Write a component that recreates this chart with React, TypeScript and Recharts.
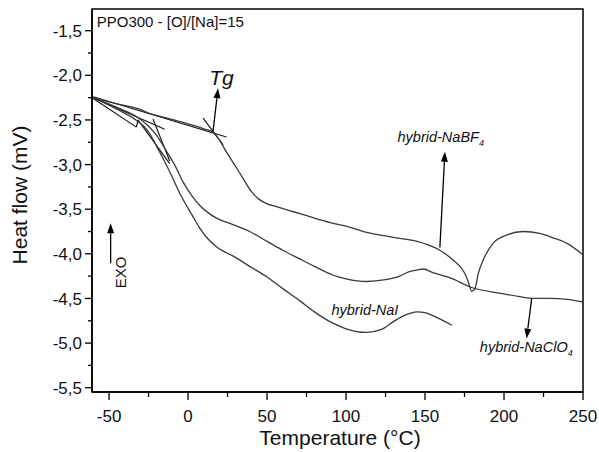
import React from "react";
import { LineChart, Line, XAxis, YAxis, ReferenceLine, ReferenceDot, ReferenceArea } from "recharts";

const FONT = '"Liberation Sans", Arial, sans-serif';

const X_MIN = -60.8;
const X_MAX = 250;
const Y_MIN = -5.548;
const Y_MAX = -1.257;

const xTicks = [-50, -25, 0, 25, 50, 75, 100, 125, 150, 175, 200, 225, 250];
const yTicks = [-5.5, -5.25, -5, -4.75, -4.5, -4.25, -4, -3.75, -3.5, -3.25, -3, -2.75, -2.5, -2.25, -2, -1.75, -1.5];

// hybrid-NaBF4
const bf4T = [-60, -45, -30, -24, -15, -5, 5, 10, 16, 20, 24, 29, 35, 40, 45, 50, 56, 63, 71, 80, 90, 100, 113, 125, 135, 145, 152, 159.4, 167.8, 173, 175.2, 177.3, 179.5, 181.6, 183.7, 186.8, 193.2, 201.6, 212, 222.7, 231, 239.6, 250];
const bf4V = [-2.25, -2.32, -2.385, -2.43, -2.47, -2.52, -2.57, -2.6, -2.64, -2.73, -2.85, -2.99, -3.16, -3.3, -3.39, -3.44, -3.47, -3.51, -3.55, -3.6, -3.65, -3.69, -3.76, -3.8, -3.83, -3.86, -3.9, -3.96, -4.07, -4.16, -4.22, -4.31, -4.42, -4.39, -4.22, -4.07, -3.88, -3.79, -3.75, -3.77, -3.82, -3.88, -4.01];

// hybrid-NaClO4
const clo4T = [-60, -45, -32, -25, -20, -14, -8, -3, 2, 7, 12, 18, 28, 39, 50, 60, 71, 80, 92, 100, 113, 125, 134, 140, 145, 149, 155, 166, 180, 197, 210, 218, 229, 240, 250];
const clo4V = [-2.25, -2.36, -2.47, -2.57, -2.67, -2.84, -3.02, -3.2, -3.34, -3.45, -3.53, -3.6, -3.67, -3.75, -3.86, -3.96, -4.06, -4.14, -4.24, -4.28, -4.31, -4.29, -4.25, -4.2, -4.18, -4.17, -4.21, -4.27, -4.38, -4.44, -4.48, -4.5, -4.5, -4.51, -4.54];

// hybrid-NaI
const naiT = [-60, -45, -33, -28, -24, -20, -15, -10, -5, 0, 3, 7, 11, 18, 30, 39, 50, 60, 71, 80, 92, 100, 113, 122, 130, 137, 145, 150, 156, 167];
const naiV = [-2.25, -2.38, -2.5, -2.57, -2.66, -2.79, -2.96, -3.14, -3.33, -3.49, -3.58, -3.7, -3.8, -3.92, -4.04, -4.14, -4.26, -4.39, -4.53, -4.65, -4.78, -4.84, -4.88, -4.85, -4.76, -4.69, -4.65, -4.66, -4.7, -4.8];

// tangent construction lines [t1, v1, t2, v2]
const tangentLines = [
  [-60, -2.24, 24.3, -2.69],
  [9.5, -2.48, 22.2, -2.78],
  [-60, -2.25, -14.8, -2.605],
  [-60, -2.26, -32.7, -2.58],
  [-32.7, -2.58, -31.7, -2.5],
  [-31.7, -2.5, -11.6, -2.99],
  [-22.2, -2.49, -11.6, -2.96],
];

// arrows [t1, v1, t2, v2] head at second point
const arrows = [
  [15.8, -2.63, 19, -2.145],
  [159.4, -3.93, 162.6, -2.856],
  [217.5, -4.5, 214.3, -4.95],
  [-49, -4.106, -49, -3.658],
];

const zip = (ts: number[], vs: number[]) => ts.map((t, i) => ({ t, v: vs[i] }));
const bf4Data = zip(bf4T, bf4V);
const clo4Data = zip(clo4T, clo4V);
const naiData = zip(naiT, naiV);

const X_TICK_SIZE = 8;
const X_TICK_MARGIN = 10;
const Y_TICK_SIZE = 7;
const Y_TICK_MARGIN = 3;

const XTick = (props: any) => {
  const { x, y, payload } = props;
  const v = payload.value;
  const major = Math.abs(v % 50) < 1e-6;
  const axisY = y - X_TICK_SIZE - X_TICK_MARGIN;
  return (
    <g>
      <line x1={x} x2={x} y1={axisY} y2={axisY + (major ? X_TICK_SIZE : 5)} stroke="#000" strokeWidth={1.3} />
      {major && (
        <text x={x} y={y} dy="0.71em" textAnchor="middle" fontFamily={FONT} fontSize={17} fill="#111">
          {String(v)}
        </text>
      )}
    </g>
  );
};

const YTick = (props: any) => {
  const { x, y, payload } = props;
  const v = payload.value;
  const major = Math.abs(Math.round(v * 2) - v * 2) < 1e-6;
  const axisX = x + Y_TICK_SIZE + Y_TICK_MARGIN;
  return (
    <g>
      <line x1={axisX - (major ? Y_TICK_SIZE : 4)} x2={axisX} y1={y} y2={y} stroke="#000" strokeWidth={1.3} />
      {major && (
        <text x={x} y={y} dy="0.36em" textAnchor="end" fontFamily={FONT} fontSize={17} fill="#111">
          {v.toFixed(1).replace(".", ",")}
        </text>
      )}
    </g>
  );
};

const arrowShape = (props: any) => {
  const { x1, y1, x2, y2 } = props;
  const dx = x2 - x1;
  const dy = y2 - y1;
  const len = Math.hypot(dx, dy) || 1;
  const ux = dx / len;
  const uy = dy / len;
  const hl = 10;
  const hw = 3.5;
  const bx = x2 - ux * hl;
  const by = y2 - uy * hl;
  const pts = `${x2},${y2} ${bx - uy * hw},${by + ux * hw} ${bx + uy * hw},${by - ux * hw}`;
  return (
    <g>
      <line x1={x1} y1={y1} x2={bx} y2={by} stroke="#000" strokeWidth={1.3} />
      <polygon points={pts} fill="#000" />
    </g>
  );
};

const textShape = (content: React.ReactNode, opts: any) => (props: any) => (
  <text
    x={props.cx}
    y={props.cy}
    fontFamily={FONT}
    fill="#111"
    {...opts}
  >
    {content}
  </text>
);

const rotatedText = (content: string, fontSize: number) => (props: any) => (
  <text
    x={props.cx}
    y={props.cy}
    transform={`rotate(-90, ${props.cx}, ${props.cy})`}
    textAnchor="middle"
    fontFamily={FONT}
    fontSize={fontSize}
    fill="#111"
  >
    {content}
  </text>
);

export default function App() {
  return (
    <div style={{ position: "absolute", left: 0, top: 0, width: 599, height: 452, background: "#fff" }}>
      <LineChart width={599} height={452} margin={{ top: 9, right: 16, left: 0, bottom: 0 }}>
        <XAxis
          type="number"
          dataKey="t"
          domain={[X_MIN, X_MAX]}
          allowDataOverflow
          ticks={xTicks}
          interval={0}
          height={60}
          tickSize={X_TICK_SIZE}
          tickMargin={X_TICK_MARGIN}
          tickLine={false}
          tick={<XTick />}
          axisLine={{ stroke: "#000", strokeWidth: 1.5 }}
          label={(p: any) => {
            const vb = p.viewBox;
            return (
              <text x={vb.x + vb.width / 2 + 2.5} y={vb.y + 53} textAnchor="middle" fontFamily={FONT} fontSize={21} fill="#111">
                Temperature (°C)
              </text>
            );
          }}
        />
        <YAxis
          type="number"
          domain={[Y_MIN, Y_MAX]}
          allowDataOverflow
          ticks={yTicks}
          interval={0}
          width={92}
          tickSize={Y_TICK_SIZE}
          tickMargin={Y_TICK_MARGIN}
          tickLine={false}
          tick={<YTick />}
          axisLine={{ stroke: "#000", strokeWidth: 1.5 }}
          label={(p: any) => {
            const vb = p.viewBox;
            const cx = vb.x + 26.5;
            const cy = vb.y + vb.height / 2 - 5.5;
            return (
              <text x={cx} y={cy} transform={`rotate(-90, ${cx}, ${cy})`} textAnchor="middle" fontFamily={FONT} fontSize={21} fill="#111">
                Heat flow (mV)
              </text>
            );
          }}
        />
        <ReferenceArea x1={X_MIN} x2={X_MAX} y1={Y_MIN} y2={Y_MAX} fill="none" stroke="#000" strokeWidth={1.5} ifOverflow="visible" />

        {tangentLines.map((s, i) => (
          <ReferenceLine
            key={"tan" + i}
            segment={[{ x: s[0], y: s[1] }, { x: s[2], y: s[3] }]}
            stroke="#111"
            strokeWidth={1.1}
            ifOverflow="visible"
          />
        ))}

        <Line data={bf4Data} dataKey="v" type="monotone" stroke="#3a3a3a" strokeWidth={1.3} dot={false} isAnimationActive={false} />
        <Line data={clo4Data} dataKey="v" type="monotone" stroke="#3a3a3a" strokeWidth={1.3} dot={false} isAnimationActive={false} />
        <Line data={naiData} dataKey="v" type="monotone" stroke="#3a3a3a" strokeWidth={1.3} dot={false} isAnimationActive={false} />

        {arrows.map((s, i) => (
          <ReferenceLine
            key={"arr" + i}
            segment={[{ x: s[0], y: s[1] }, { x: s[2], y: s[3] }]}
            ifOverflow="visible"
            shape={arrowShape}
          />
        ))}

        <ReferenceDot x={-57.8} y={-1.459} r={0} ifOverflow="visible" shape={textShape("PPO300 - [O]/[Na]=15", { fontSize: 15 })} />
        <ReferenceDot x={21.2} y={-2.108} r={0} ifOverflow="visible" shape={textShape("Tg", { fontSize: 21, fontStyle: "italic", textAnchor: "middle" })} />
        <ReferenceDot
          x={132.6}
          y={-2.743}
          r={0}
          ifOverflow="visible"
          shape={textShape(
            <>
              hybrid-NaBF<tspan fontSize={9} dy={4}>4</tspan>
            </>,
            { fontSize: 14.5, fontStyle: "italic" }
          )}
        />
        <ReferenceDot x={90.8} y={-4.685} r={0} ifOverflow="visible" shape={textShape("hybrid-NaI", { fontSize: 14.5, fontStyle: "italic" })} />
        <ReferenceDot
          x={184.7}
          y={-5.097}
          r={0}
          ifOverflow="visible"
          shape={textShape(
            <>
              hybrid-NaClO<tspan fontSize={9} dy={4}>4</tspan>
            </>,
            { fontSize: 14.5, fontStyle: "italic" }
          )}
        />
        <ReferenceDot x={-39.1} y={-4.209} r={0} ifOverflow="visible" shape={rotatedText("EXO", 15)} />
      </LineChart>
    </div>
  );
}
